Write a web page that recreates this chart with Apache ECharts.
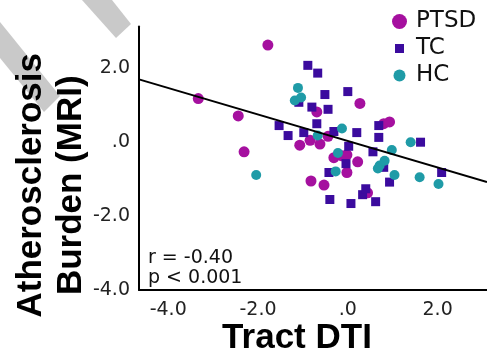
<!DOCTYPE html>
<html>
<head>
<meta charset="utf-8">
<script src="https://cdn.jsdelivr.net/npm/echarts@6/dist/echarts.min.js"></script>
<style>
  html, body { margin: 0; padding: 0; background: #fff; }
  #chart { width: 487px; height: 361px; }
</style>
</head>
<body>
<div id="chart"></div>
<script>
// PTSD group (circles)
const ptsdX = [-3.33, -2.44, -2.31, -1.78, 0.27, -0.69, 0.80, 0.93, -0.44, -0.84,
  -1.07, -0.62, -0.31, -0.13, -0.02, 0.22, -0.02, -0.82, -0.53, 0.44];
const ptsdY = [1.18, 0.71, -0.26, 2.63, 1.05, 0.82, 0.50, 0.55, 0.16, 0.05,
  -0.08, -0.05, -0.42, -0.37, -0.34, -0.53, -0.82, -1.05, -1.16, -1.37];

// TC group (squares)
const tcX = [-0.89, -0.67, -0.51, 0.00, -1.09, -0.80, -0.44, -0.69, 0.69, -1.53,
  -1.33, -0.98, -0.31, 0.20, 0.69, 1.62, 0.02, 0.56, -0.04, 0.80,
  2.09, -0.42, 0.93, -0.40, 0.07, 0.33, 0.40, 0.62];
const tcY = [2.08, 1.87, 1.29, 1.37, 1.08, 0.95, 0.89, 0.50, 0.45, 0.45,
  0.18, 0.26, 0.29, 0.26, 0.13, 0.00, -0.11, -0.26, -0.58, -0.68,
  -0.82, -0.82, -1.08, -1.55, -1.66, -1.42, -1.26, -1.61];

// HC group
const hcX = [-1.11, -1.18, -1.04, -0.67, -0.13, 1.40, 0.98, -0.22, 0.82, 0.71,
  0.67, -2.04, -0.27, 1.04, 1.60, 2.02];
const hcY = [1.47, 1.13, 1.21, 0.18, 0.37, 0.00, -0.21, -0.29, -0.50, -0.63,
  -0.71, -0.89, -0.79, -0.89, -0.95, -1.13];

// fitted line, read at the two ends of the x axis
const fitX = [-4.65, 3.1];
const fitY = [1.70, -1.08];

const xTicks = [-4, -2, 0, 2];
const yTicks = [-4, -2, 0, 2];

const zip = (xs, ys) => xs.map((x, i) => [x, ys[i]]);
const tickText = (v) => (Number(v) === 0 ? ".0" : Number(v).toFixed(1));

const chart = echarts.init(document.getElementById("chart"));

const option = {
  animation: false,
  backgroundColor: "#fff",
  grid: {
    left: 139,
    right: 0,
    top: 25,
    bottom: 63,
  },
  xAxis: {
    type: "value",
    min: -4.65,
    max: 3.1,
    splitLine: { show: false },
    axisTick: { show: false },
    axisLine: { onZero: false, lineStyle: { color: "#000", width: 2 } },
    axisLabel: {
      customValues: xTicks,
      formatter: tickText,
      color: "#222",
      fontSize: 19,
      fontFamily: "DejaVu Sans",
      margin: 11,
    },
    name: "Tract DTI",
    nameLocation: "middle",
    nameGap: 31,
    nameMoveOverlap: false,
    nameTextStyle: {
      color: "#000",
      fontSize: 35,
      fontWeight: "bold",
      fontFamily: "Liberation Sans",
      lineHeight: 35,
      padding: [0, 32, 0, 0],
    },
  },
  yAxis: {
    type: "value",
    min: -4,
    max: 3.13,
    splitLine: { show: false },
    axisTick: { show: false },
    axisLine: { onZero: false, lineStyle: { color: "#000", width: 2 } },
    axisLabel: {
      customValues: yTicks,
      formatter: tickText,
      color: "#222",
      fontSize: 19,
      fontFamily: "DejaVu Sans",
      margin: 9,
    },
    name: "Atherosclerosis\nBurden (MRI)",
    nameLocation: "middle",
    nameGap: 48,
    nameMoveOverlap: false,
    nameTextStyle: {
      color: "#000",
      fontSize: 35,
      fontWeight: "bold",
      fontFamily: "Liberation Sans",
      lineHeight: 40,
      padding: [0, 54, 0, 0],
    },
  },
  legend: {
    orient: "vertical",
    left: 387,
    top: 5,
    itemWidth: 15,
    itemHeight: 15,
    itemGap: 4,
    textStyle: {
      color: "#111",
      fontSize: 23,
      lineHeight: 22,
      fontFamily: "DejaVu Sans",
      padding: [0, 0, 0, 4],
    },
    data: [
      { name: "PTSD", icon: "circle" },
      { name: "TC", icon: "path://M0,0M15,15M3,3h9v9h-9z" },
      { name: "HC", icon: "path://M0,0M15,15M7.5,1.5a6,6 0 1,1 0,12a6,6 0 1,1 0,-12z" },
    ],
  },
  graphic: [
    // faint grey watermark strokes in the top-left corner
    {
      type: "polygon",
      z: -10,
      shape: { points: [[0, 22], [0, 58], [44, 112], [60, 96]] },
      style: { fill: "#c9c9c9" },
    },
    {
      type: "polygon",
      z: -10,
      shape: { points: [[82, 0], [112, 0], [131, 24], [116, 38]] },
      style: { fill: "#c9c9c9" },
    },
    {
      type: "text",
      left: 148,
      top: 248,
      style: {
        text: "r = -0.40\np < 0.001",
        font: "19px 'DejaVu Sans'",
        lineHeight: 20,
        fill: "#111",
      },
    },
  ],
  series: [
    {
      name: "PTSD",
      type: "scatter",
      symbol: "circle",
      symbolSize: 11,
      itemStyle: { color: "#a5109f", opacity: 1 },
      data: zip(ptsdX, ptsdY),
    },
    {
      name: "TC",
      type: "scatter",
      symbol: "rect",
      symbolSize: 9,
      itemStyle: { color: "#3b0b9e", opacity: 1 },
      data: zip(tcX, tcY),
    },
    {
      name: "HC",
      type: "scatter",
      symbol: "circle",
      symbolSize: 10,
      itemStyle: { color: "#1f9ba7", opacity: 1 },
      data: zip(hcX, hcY),
    },
    {
      name: "fit",
      type: "line",
      symbol: "none",
      silent: true,
      z: 5,
      lineStyle: { color: "#000", width: 2 },
      data: zip(fitX, fitY),
    },
  ],
};

chart.setOption(option);
</script>
</body>
</html>
